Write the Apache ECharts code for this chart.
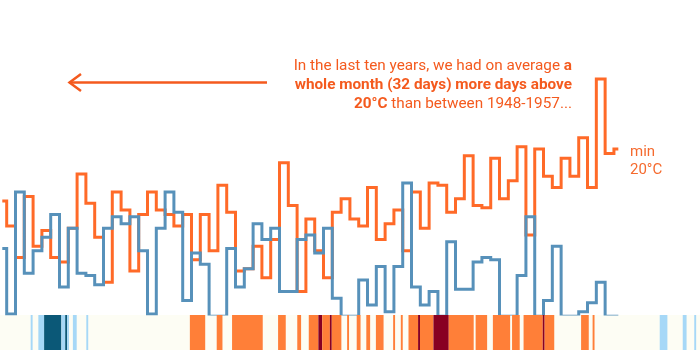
<!DOCTYPE html>
<html>
<head>
<meta charset="utf-8">
<script src="https://cdn.jsdelivr.net/npm/echarts@6/dist/echarts.min.js"></script>
<style>
  html, body { margin: 0; padding: 0; background: #ffffff; }
  #chart { width: 700px; height: 350px; }
</style>
</head>
<body>
<div id="chart"></div>
<script>
// ---- Data ----
const years = [1948,1949,1950,1951,1952,1953,1954,1955,1956,1957,
  1958,1959,1960,1961,1962,1963,1964,1965,1966,1967,
  1968,1969,1970,1971,1972,1973,1974,1975,1976,1977,
  1978,1979,1980,1981,1982,1983,1984,1985,1986,1987,
  1988,1989,1990,1991,1992,1993,1994,1995,1996,1997,
  1998,1999,2000,2001,2002,2003,2004,2005,2006,2007,
  2008,2009,2010,2011,2012,2013,2014,2015,2016,2017,
  2018];

// orange: days per year with min temperature above 20°C
const warmDays = [51,40,26,53,31,38,26,24,39,63,
  50,35,15,55,47,20,45,55,47,45,
  40,45,25,45,29,58,46,20,21,31,
  17,34,68,49,11,43,29,17,46,52,
  43,40,57,34,41,47,29,55,39,59,
  58,46,52,71,49,48,70,52,60,75,
  36,74,62,57,70,62,79,57,105,72,
  74];

// blue: cold days per year
const coldDays = [30,1,55,19,29,35,45,13,39,19,
  18,14,39,44,41,44,29,1,39,55,
  46,7,28,23,0,0,30,13,21,41,
  34,39,11,11,34,36,28,39,8,0,
  0,16,5,22,2,22,59,13,5,11,
  0,33,12,12,24,26,25,0,0,18,
  44,0,7,31,0,0,2,6,15,0,
  0];

// bottom strip: day-of-year runs (start day, end day, level)
const stripStart = [16,20,23,32,34,35,38,45,
  99,113,121,145,155,161,166,168,172,173,181,186,191,196,205,209,213,218,219,226,234,248,257,267,273,283,284,303,309,
  344,356,362];
const stripEnd = [17,23,32,34,35,36,40,46,
  107,116,137,149,157,166,168,172,173,178,182,188,193,200,206,210,218,219,226,234,247,254,266,271,283,284,289,307,310,
  348,358,363];
const stripLevel = ['cold','cold','veryCold','cold','veryCold','cold','cold','cold',
  'warm','warm','warm','warm','warm','warm','hot','warm','hot','warm','warm','warm','warm','warm','warm','warm','warm','hot','warm','hot','warm','warm','warm','warm','warm','hot','warm','warm','warm',
  'cold','cold','cold'];

const annotationLines = [
  [['n','In the last ten years, we had on average '],['b','a']],
  [['b','whole month (32 days) more days above']],
  [['b','20°C'],['n',' than between 1948-1957...']]
];
const seriesLabel = ['min', '20°C'];

// ---- Styles ----
const ORANGE = '#ff6a28';
const BLUE = '#5791ba';
const TEXT_ORANGE = '#f45a1e';
const levelColors = { veryCold: '#0b5877', cold: '#a6d8f7', warm: '#ff7f38', hot: '#880022' };
const FONT = 'Roboto, "Noto Sans", sans-serif';

const warmData = years.map((y, i) => [y, warmDays[i]]);
const coldData = years.map((y, i) => [y, coldDays[i]]);
const stripData = stripStart.map((s, i) => [s, stripEnd[i], stripLevel[i]]);

const richText = annotationLines.map(line => line.map(([k, t]) => '{' + k + '|' + t + '}').join('')).join('\n');

const chart = echarts.init(document.getElementById('chart'), null, { renderer: 'canvas' });
chart.setOption({
  animation: false,
  backgroundColor: '#ffffff',
  grid: [
    { left: 0, right: 0, top: 0, bottom: 36, containLabel: false },
    { left: 0, right: 0, top: 315, bottom: 0, show: true, backgroundColor: '#fdfdf4', borderWidth: 0 }
  ],
  xAxis: [
    { gridIndex: 0, type: 'value', min: 1947.74, max: 2027.28, show: false },
    { gridIndex: 1, type: 'value', min: 0, max: 365, show: false }
  ],
  yAxis: [
    { gridIndex: 0, type: 'value', min: 1, max: 140, show: false },
    { gridIndex: 1, type: 'value', min: 0, max: 1, show: false }
  ],
  series: [
    {
      type: 'line', xAxisIndex: 0, yAxisIndex: 0, step: 'middle',
      data: warmData, symbol: 'none', clip: true, z: 2,
      lineStyle: { color: ORANGE, width: 3, join: 'miter', cap: 'butt' }
    },
    {
      type: 'line', xAxisIndex: 0, yAxisIndex: 0, step: 'middle',
      data: coldData, symbol: 'none', clip: true, z: 3,
      lineStyle: { color: BLUE, width: 3, join: 'miter', cap: 'butt' }
    },
    {
      type: 'custom', xAxisIndex: 1, yAxisIndex: 1, data: stripData, z: 5,
      renderItem: function (params, api) {
        const a = api.coord([api.value(0), 1]);
        const b = api.coord([api.value(1), 0]);
        const lvl = stripData[params.dataIndex][2];
        return {
          type: 'rect',
          shape: { x: a[0], y: a[1], width: b[0] - a[0], height: b[1] - a[1] },
          style: { fill: levelColors[lvl] }
        };
      }
    }
  ],
  graphic: [
    {
      type: 'polyline', z: 10,
      shape: { points: [[69, 82.5], [267, 82.5]] },
      style: { stroke: TEXT_ORANGE, lineWidth: 2.5, fill: null }
    },
    {
      type: 'polyline', z: 10,
      shape: { points: [[81, 74], [69.5, 82.5], [81, 91]] },
      style: { stroke: TEXT_ORANGE, lineWidth: 2.5, fill: null }
    },
    {
      type: 'text', z: 10, x: 572, y: 57,
      style: {
        text: richText, align: 'right', verticalAlign: 'top',
        fill: TEXT_ORANGE, font: '15.3px ' + FONT,
        rich: {
          n: { fontSize: 15.3, fontFamily: FONT, fontWeight: 'normal', fill: TEXT_ORANGE, lineHeight: 19 },
          b: { fontSize: 15.3, fontFamily: FONT, fontWeight: 'bold', fill: TEXT_ORANGE, lineHeight: 19 }
        }
      }
    },
    {
      type: 'text', z: 10, x: 630, y: 143,
      style: {
        text: seriesLabel.join('\n'), align: 'left', verticalAlign: 'top',
        fill: '#f56a2e', font: '15px ' + FONT, lineHeight: 18
      }
    }
  ]
});
</script>
</body>
</html>
